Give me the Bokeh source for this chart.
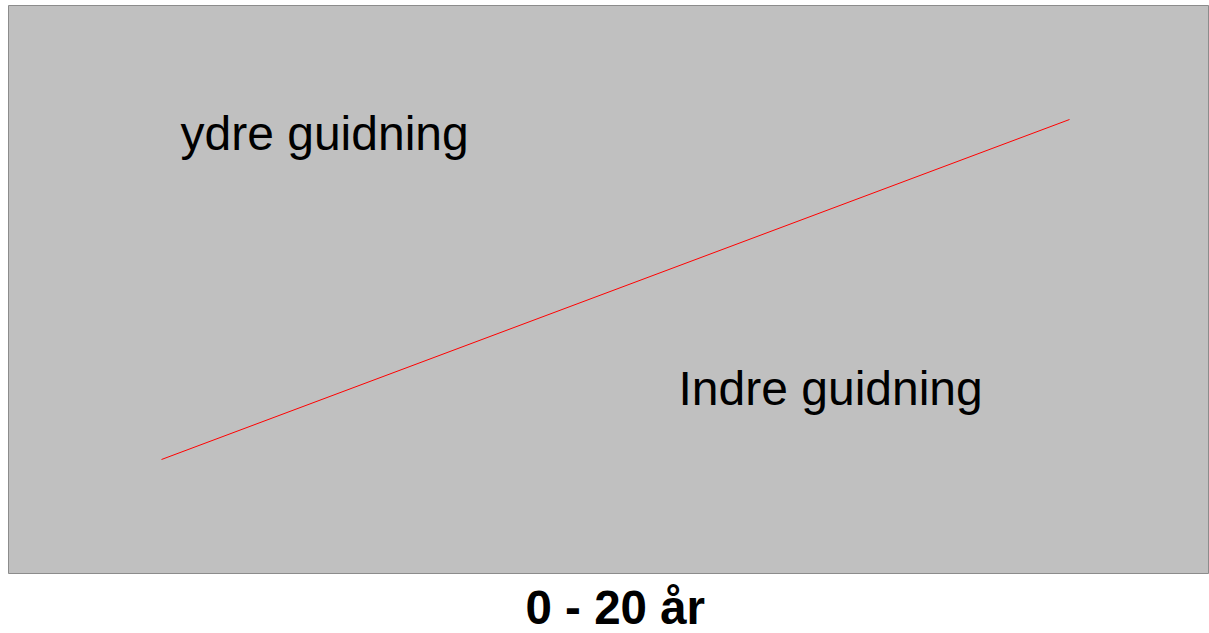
from bokeh.plotting import figure
from bokeh.models import Title, Range1d
from bokeh.core.properties import value
from bokeh.embed import file_html
from bokeh.resources import INLINE

# data (frame coordinates: x 0..1201, y 0..568)
line_x = [153, 1061]
line_y = [114, 454]
label_text = ["ydre guidning", "Indre guidning"]
label_x = [172, 670]
label_y = [440, 185]
title_text = "0 - 20 år"

p = figure(frame_width=1201, frame_height=568, output_backend="svg",
           toolbar_location=None, x_axis_location=None, y_axis_location=None,
           x_range=Range1d(0, 1201), y_range=Range1d(0, 568),
           min_border_left=8, min_border_right=0, min_border_top=5, min_border_bottom=0,
           background_fill_color="#ffffff", border_fill_color="#ffffff")
p.title.visible = False
p.background_fill_color = "#c0c0c0"
p.outline_line_color = "#8c8c8c"
p.outline_line_width = 1
p.grid.visible = False

p.line(line_x, line_y, line_color="#ff0000", line_width=1)
p.text(label_x, label_y, text=label_text, text_font=value("Liberation Sans"),
       text_font_size="48px", text_color="#000000", text_baseline="alphabetic",
       text_align="left")

t = Title(text=title_text, align="left", text_font="Liberation Sans",
          text_font_size="47.5px", text_font_style="bold", text_color="#000000",
          standoff=10, offset=517)
p.add_layout(t, "below")

open("out.html", "w").write(file_html(p, INLINE))
